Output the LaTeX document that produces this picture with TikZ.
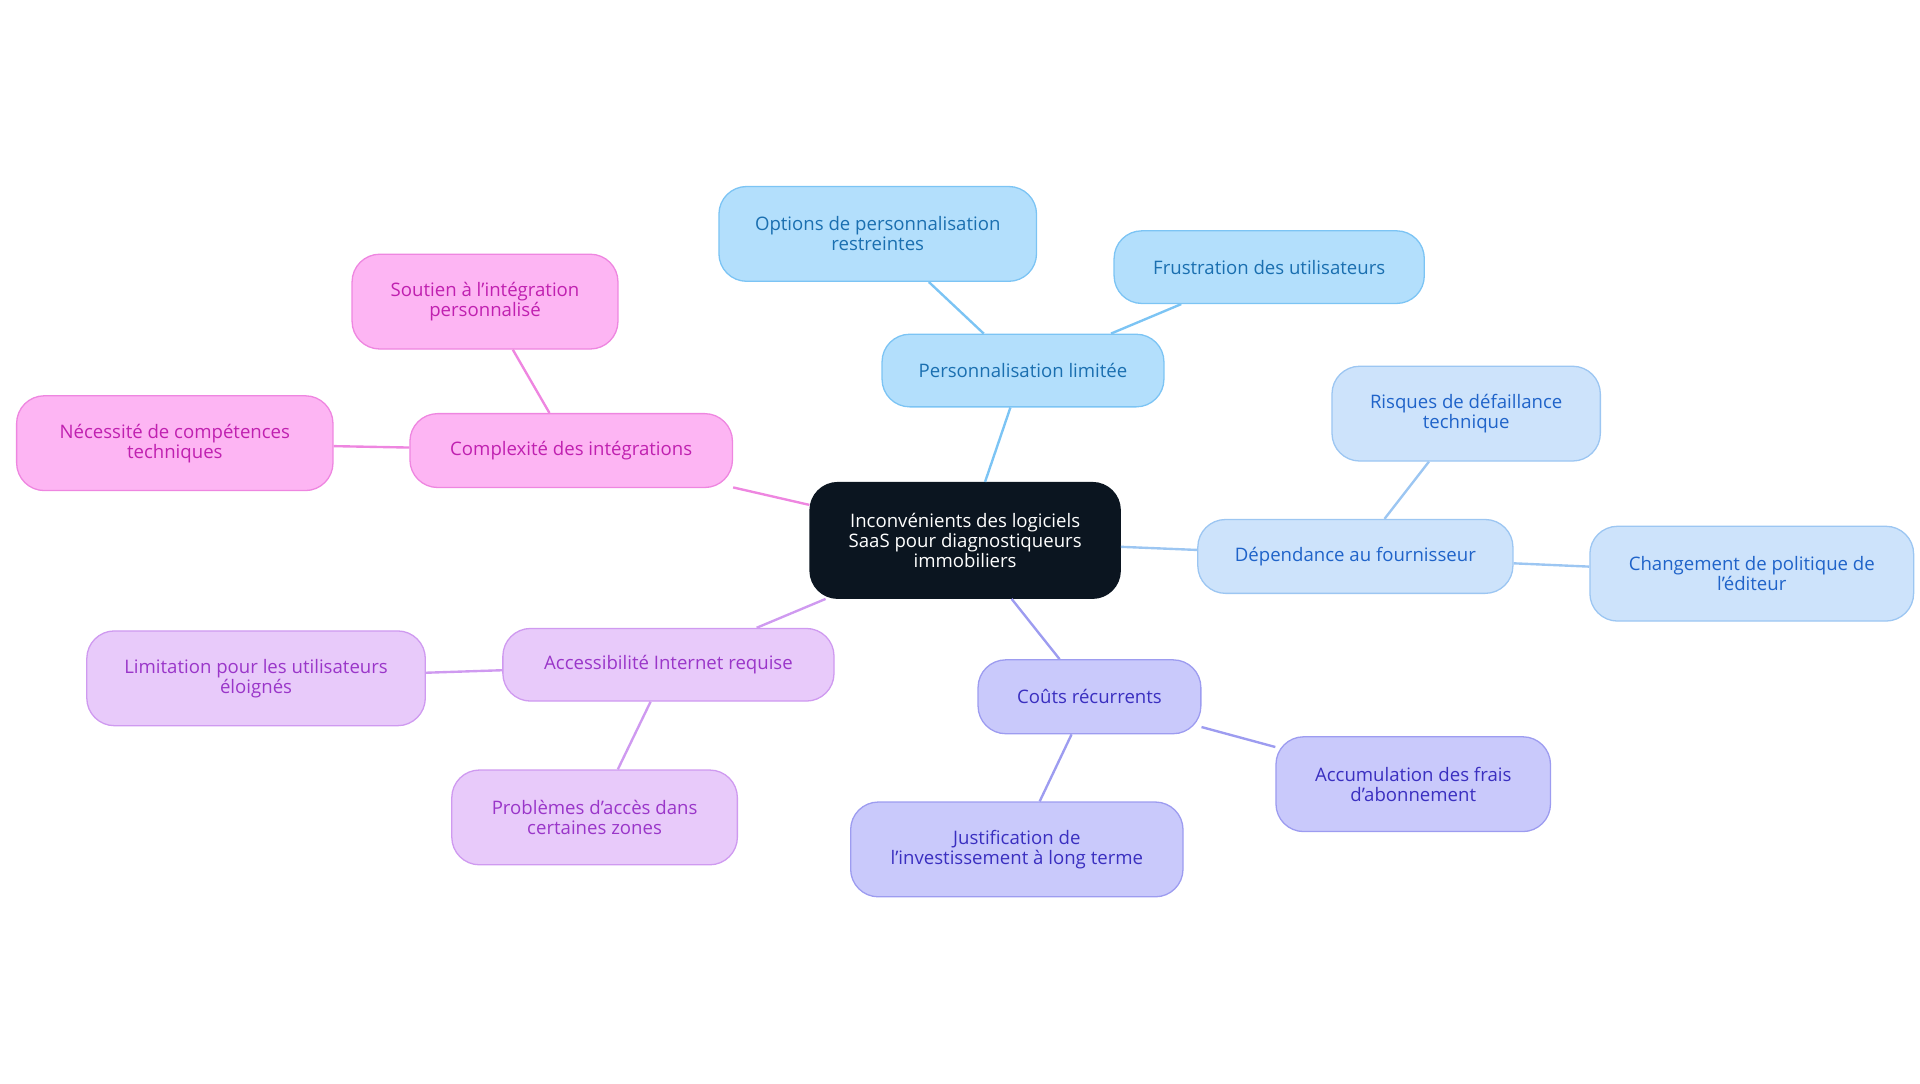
\documentclass[tikz,border=0pt]{standalone}
\usepackage{fontspec}
\setmainfont{Open Sans}
\definecolor{rootfill}{rgb}{0.043, 0.082, 0.125}
\definecolor{bluefill}{HTML}{B3DFFC}\definecolor{blueline}{HTML}{7CC4F4}\definecolor{bluetext}{HTML}{1A6FB0}
\definecolor{skyfill}{HTML}{CDE3FB}\definecolor{skyline}{HTML}{9CC6F2}\definecolor{skytext}{HTML}{1F63C9}
\definecolor{indfill}{HTML}{C9C9FB}\definecolor{indline}{HTML}{9D9CF0}\definecolor{indtext}{HTML}{3A2FC0}
\definecolor{lavfill}{HTML}{E8CAFA}\definecolor{lavline}{HTML}{CF9AF0}\definecolor{lavtext}{HTML}{9A36C9}
\definecolor{pinkfill}{HTML}{FDB5F3}\definecolor{pinkline}{HTML}{EE86E0}\definecolor{pinktext}{HTML}{C020B0}
\tikzset{
  box/.style={rounded corners=0.45cm, align=center, inner sep=0pt, line width=0.6pt,
    font=\fontsize{8.6}{9.2}\selectfont},
  root/.style={box, fill=rootfill, draw=rootfill, text=white},
  bluebox/.style={box, fill=bluefill, draw=blueline, text=bluetext},
  skybox/.style={box, fill=skyfill, draw=skyline, text=skytext},
  indbox/.style={box, fill=indfill, draw=indline, text=indtext},
  lavbox/.style={box, fill=lavfill, draw=lavline, text=lavtext},
  pinkbox/.style={box, fill=pinkfill, draw=pinkline, text=pinktext},
  link/.style={line width=1.1pt}
}
\newcommand{\mmnode}[7]{% style, name, x, y, width, height, text
  \node[#1, minimum width=#5*0.02cm, minimum height=#6*0.02cm] (#2) at (#3*0.02,-#4*0.02) {#7};}
\begin{document}
\begin{tikzpicture}
\useasboundingbox (0,0) rectangle (31.2,-17.6);
\mmnode{root}{core}{784}{439}{252}{94}{Inconvénients des logiciels\\SaaS pour diagnostiqueurs\\immobiliers}
\mmnode{bluebox}{perso}{831}{301}{229}{59}{Personnalisation limitée}
\mmnode{bluebox}{options}{713}{190}{258}{77}{Options de personnalisation\\restreintes}
\mmnode{bluebox}{frust}{1031}{217}{252}{59}{Frustration des utilisateurs}
\mmnode{skybox}{depend}{1101}{452}{256}{60}{Dépendance au fournisseur}
\mmnode{skybox}{risk}{1191}{336}{218}{77}{Risques de défaillance\\technique}
\mmnode{skybox}{change}{1423}{466}{263}{77}{Changement de politique de\\l'éditeur}
\mmnode{indbox}{costs}{885}{566}{181}{60}{Coûts récurrents}
\mmnode{indbox}{accum}{1148}{637}{223}{77}{Accumulation des frais\\d'abonnement}
\mmnode{indbox}{justif}{826}{690}{270}{77}{Justification de\\l'investissement à long terme}
\mmnode{lavbox}{access}{543}{540}{269}{59}{Accessibilité Internet requise}
\mmnode{lavbox}{remote}{208}{551}{275}{77}{Limitation pour les utilisateurs\\éloignés}
\mmnode{lavbox}{zones}{483}{664}{232}{77}{Problèmes d'accès dans\\certaines zones}
\mmnode{pinkbox}{integ}{464}{366}{262}{60}{Complexité des intégrations}
\mmnode{pinkbox}{support}{394}{245}{216}{77}{Soutien à l'intégration\\personnalisé}
\mmnode{pinkbox}{skills}{142}{360}{257}{77}{Nécessité de compétences\\techniques}
% links
\draw[link, blueline] (core) -- (perso);
\draw[link, blueline] (perso) -- (options);
\draw[link, blueline] (perso) -- (frust);
\draw[link, skyline] (core) -- (depend);
\draw[link, skyline] (depend) -- (risk);
\draw[link, skyline] (depend) -- (change);
\draw[link, indline] (core) -- (costs);
\draw[link, indline] (costs) -- (accum);
\draw[link, indline] (costs) -- (justif);
\draw[link, lavline] (core) -- (access);
\draw[link, lavline] (access) -- (remote);
\draw[link, lavline] (access) -- (zones);
\draw[link, pinkline] (core) -- (integ);
\draw[link, pinkline] (integ) -- (support);
\draw[link, pinkline] (integ) -- (skills);
\end{tikzpicture}
\end{document}
